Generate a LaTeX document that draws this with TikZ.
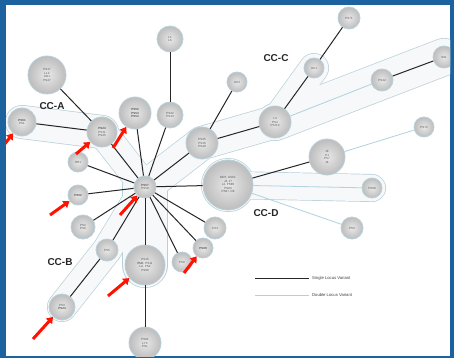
\documentclass[tikz,border=0pt]{standalone}
\usepackage{fontspec}
\setmainfont{Liberation Sans}
\usetikzlibrary{arrows.meta}
\definecolor{frameblue}{RGB}{28,98,158}
\definecolor{hullline}{RGB}{185,208,218}
\definecolor{hullfill}{RGB}{246,248,249}
\definecolor{dlvcol}{RGB}{175,210,222}
\tikzset{
  st/.style={circle, draw=hullline, line width=0.8pt, shade, inner color=gray!18, outer color=gray!52,
    minimum size=#1, inner sep=0pt, font=\fontsize{3}{3.5}\selectfont, text=gray!65!black, align=center},
  slv/.style={line width=1pt, black!85},
  dlv/.style={line width=0.8pt, dlvcol},
  redarrow/.style={red!85!orange, line width=3pt, -{Triangle[length=6pt,width=8pt]}},
  cclabel/.style={font=\bfseries\fontsize{10}{11}\selectfont, text=black!85},
  legtext/.style={font=\fontsize{4.2}{5}\selectfont, text=black!75, anchor=west, inner sep=1pt}
}
\begin{document}
\begin{tikzpicture}[x=1pt,y=-1pt]
\useasboundingbox (0,0) rectangle (454,358);
\fill[frameblue] (0,0) rectangle (454,358);
\fill[white] (6,5) rectangle (450,356);
\begin{scope}
\clip (6,5) rectangle (450,356);
% centre coordinates
\coordinate (pc) at (145,187);
\coordinate (pa1) at (102,132);
\coordinate (pa2) at (22,122);
\coordinate (pa3) at (47,75);
\coordinate (pp3) at (135,113);
\coordinate (pt2) at (170,115);
\coordinate (pt1) at (170,39);
\coordinate (pn1) at (202,143);
\coordinate (pcc1) at (275,122);
\coordinate (pcc2) at (314,68);
\coordinate (pcc3) at (349,18);
\coordinate (pcc4) at (382,80);
\coordinate (pcc5) at (444,57);
\coordinate (pr1) at (237,82);
\coordinate (pr2) at (424,127);
\coordinate (pr3) at (327,157);
\coordinate (pbig) at (228,185);
\coordinate (pd1) at (372,188);
\coordinate (pd2) at (352,228);
\coordinate (pl1) at (78,162);
\coordinate (pl2) at (78,195);
\coordinate (pl3) at (83,227);
\coordinate (pb1) at (107,250);
\coordinate (pb2) at (62,307);
\coordinate (ppl) at (145,265);
\coordinate (pbot) at (145,343);
\coordinate (ps1) at (182,262);
\coordinate (ps2) at (203,248);
\coordinate (ps3) at (215,228);
% hull bands
\foreach \w/\pth in {34/{(pa2) -- (pa1)}, 30/{(pa1) -- (pc)}, 30/{(pc) -- (pb1) -- (pb2)},
                     46/{(pc) -- (ppl)}, 34/{(pc) -- (pn1) -- (pcc1)}, 38/{(pcc1) -- (pcc5)},
                     30/{(pcc1) -- (pcc2)}, 28/{(pbig) -- (pd1)}, 54/{(pbig) -- (pbig)}}{
  \draw[hullline, line width=\w pt, line cap=round, line join=round] \pth;
}
\foreach \w/\pth in {34/{(pa2) -- (pa1)}, 30/{(pa1) -- (pc)}, 30/{(pc) -- (pb1) -- (pb2)},
                     46/{(pc) -- (ppl)}, 34/{(pc) -- (pn1) -- (pcc1)}, 38/{(pcc1) -- (pcc5)},
                     30/{(pcc1) -- (pcc2)}, 28/{(pbig) -- (pd1)}, 54/{(pbig) -- (pbig)}}{
  \draw[hullfill, line width=\w pt-1.4pt, line cap=round, line join=round] \pth;
}
% nodes
\node[st=22pt] (c) at (pc) {\textbf{PS57}\\[-0.5pt]PS58};
\node[st=30pt] (a1) at (pa1) {\textbf{PS24}\\PS31\\PS45};
\node[st=28pt] (a2) at (pa2) {\textbf{PS61}\\PS1};
\node[st=38pt] (a3) at (pa3) {PS17\\LL2\\LW1\\PS47};
\node[st=32pt] (p3) at (pp3) {\textbf{PS52}\\\textbf{PS54}\\\textbf{PS53}};
\node[st=26pt] (t2) at (pt2) {PS32\\PS33};
\node[st=26pt] (t1) at (pt1) {L1\\L6};
\node[st=32pt] (n1) at (pn1) {PS35\\PS36\\PS40};
\node[st=32pt] (cc1) at (pcc1) {L3\\PS4\\PS713};
\node[st=20pt] (cc2) at (pcc2) {UK1};
\node[st=22pt] (cc3) at (pcc3) {PS71};
\node[st=22pt] (cc4) at (pcc4) {PS42};
\node[st=22pt] (cc5) at (pcc5) {S91};
\node[st=20pt] (r1) at (pr1) {UK2};
\node[st=20pt] (r2) at (pr2) {PS72};
\node[st=36pt] (r3) at (pr3) {J9\\C1\\PS7\\J4};
\node[st=50pt] (big) at (pbig) {MRT, USC1\\J4, J7\\L2, PS85\\PS83\\PS87, D6};
\node[st=20pt] (d1) at (pd1) {PS80};
\node[st=22pt] (d2) at (pd2) {PS3};
\node[st=20pt] (l1) at (pl1) {HR1};
\node[st=20pt] (l2) at (pl2) {\textbf{PS62}};
\node[st=24pt] (l3) at (pl3) {PS2\\PS8};
\node[st=22pt] (b1) at (pb1) {PS5};
\node[st=26pt] (b2) at (pb2) {PS3\\\textbf{PS24}};
\node[st=40pt] (pl) at (ppl) {PS15\\\textbf{PLK}, PS11\\LA, PS2\\PS90};
\node[st=32pt] (bot) at (pbot) {PS91\\LY3\\PS1};
\node[st=20pt] (s1) at (ps1) {PS9};
\node[st=20pt] (s2) at (ps2) {\textbf{PS89}};
\node[st=22pt] (s3) at (ps3) {CS3};
% double locus variants
\draw[dlv] (r3) -- (r2);
\draw[dlv] (big) -- (d2);
\draw[dlv] (big) -- (d1);
\draw[dlv] (cc1) -- (cc4);
% single locus variants
\foreach \t in {a1,p3,t2,n1,l1,l2,l3,b1,pl,s1,s2,s3,big}{\draw[slv] (c) -- (\t);}
\draw[slv] (pl) -- (bot);
\draw[slv] (t2) -- (t1);
\draw[slv] (a1) -- (a3);
\draw[slv] (a1) -- (a2);
\draw[slv] (n1) -- (r1);
\draw[slv] (n1) -- (cc1);
\draw[slv] (cc1) -- (cc2);
\draw[slv] (cc2) -- (cc3);
\draw[slv] (cc4) -- (cc5);
\draw[slv] (big) -- (r3);
\draw[slv] (b1) -- (b2);
% red arrows
\coordinate (ra1) at (0,150);   \draw[redarrow] (ra1) -- (a2);
\coordinate (ra2) at (76,154);  \draw[redarrow] (ra2) -- (a1);
\coordinate (ra3) at (113,148); \draw[redarrow] (ra3) -- (p3);
\coordinate (ra4) at (50,215);  \draw[redarrow] (ra4) -- (l2);
\coordinate (ra5) at (120,215); \draw[redarrow] (ra5) -- (c);
\coordinate (ra6) at (108,296); \draw[redarrow] (ra6) -- (pl);
\coordinate (ra7) at (184,273); \draw[redarrow] (ra7) -- (s2);
\coordinate (ra8) at (33,339);  \draw[redarrow] (ra8) -- (b2);
\end{scope}
% cluster labels
\node[cclabel] (lA) at (52,106) {CC-A};
\node[cclabel] (lB) at (60,262) {CC-B};
\node[cclabel] (lC) at (276,58) {CC-C};
\node[cclabel] (lD) at (266,213) {CC-D};
% legend
\coordinate (sa) at (255,278); \coordinate (sb) at (309,278);
\draw[slv] (sa) -- (sb);
\node[legtext] (st1) at (311,278) {Single Locus Variant};
\coordinate (da) at (255,295); \coordinate (db) at (309,295);
\draw[dlv] (da) -- (db);
\node[legtext] (st2) at (311,295) {Double Locus Variant};
\end{tikzpicture}
\end{document}
